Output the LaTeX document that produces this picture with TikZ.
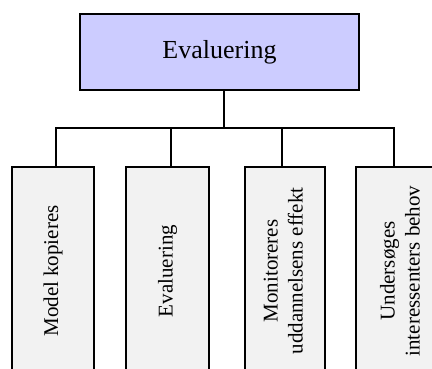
\documentclass[tikz,border=0pt]{standalone}
\usepackage{fontspec}
\setmainfont{Liberation Serif}
\usepackage{graphicx}
\definecolor{topfill}{HTML}{CCCCFF}
\definecolor{boxfill}{HTML}{F2F2F2}
\begin{document}
\begin{tikzpicture}[x=1pt, y=-1pt, line width=2pt,
  topbox/.style={draw, fill=topfill, minimum width=279pt, minimum height=76pt, inner sep=0pt, font=\fontsize{26}{30}\selectfont},
  subbox/.style={draw, fill=boxfill, minimum height=208pt, inner sep=0pt, font=\fontsize{21}{25}\selectfont}]
\clip (0,0) rectangle (432,369);
\node[topbox] (eval) at (219.5,52) {Evaluering};
\node[subbox, minimum width=82pt] (model) at (53,271) {\rotatebox{90}{Model kopieres}};
\node[subbox, minimum width=83pt] (evalsub) at (167.5,271) {\rotatebox{90}{Evaluering}};
\node[subbox, minimum width=80pt] (monitor) at (285,271) {\rotatebox{90}{\begin{tabular}{@{}c@{}}Monitoreres\\uddannelsens effekt\end{tabular}}};
\node[subbox, minimum width=92pt] (unders) at (402,271) {\rotatebox{90}{\begin{tabular}{@{}c@{}}Undersøges\\interessenters behov\end{tabular}}};
\coordinate (bus) at (224,128);
\draw ([xshift=4.5pt]eval.south) -- (bus);
\draw ([xshift=3pt]model.north) |- (bus) -| ([xshift=-8pt]unders.north);
\draw ([xshift=3.5pt]evalsub.north) -- ([xshift=3.5pt]evalsub.north |- bus);
\draw ([xshift=-3pt]monitor.north) -- ([xshift=-3pt]monitor.north |- bus);
\end{tikzpicture}
\end{document}
